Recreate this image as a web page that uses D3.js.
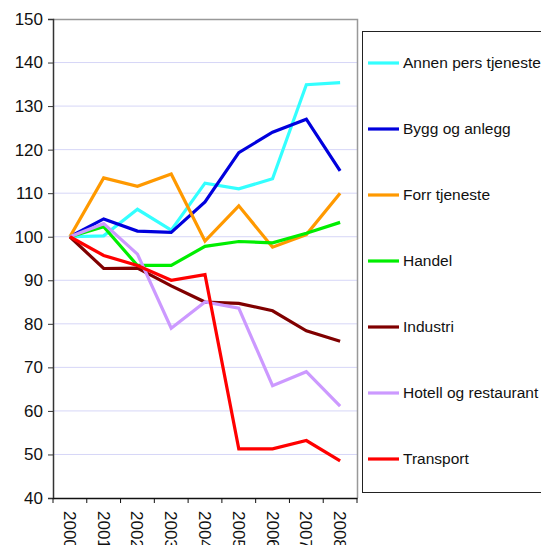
<!DOCTYPE html>
<html>
<head>
<meta charset="utf-8">
<script src="https://cdn.jsdelivr.net/npm/d3@7"></script>
<style>
  body { margin: 0; background: #fff; }
  svg { display: block; font-family: "Liberation Sans", Arial, sans-serif; }
</style>
</head>
<body>
<script>
const years = ["2000","2001","2002","2003","2004","2005","2006","2007","2008"];
const annen = [100, 100.2, 106.3, 101.5, 112.3, 111, 113.3, 134.9, 135.4];
const bygg = [100, 104.1, 101.3, 101, 108, 119.3, 124, 127, 115.1];
const forr = [100, 113.5, 111.6, 114.4, 99, 107.1, 97.6, 100.5, 110];
const handel = [100, 102.3, 93.4, 93.4, 97.8, 98.9, 98.6, 100.8, 103.3];
const industri = [100, 92.7, 92.8, 88.7, 85, 84.7, 83, 78.4, 76];
const hotell = [100, 103, 96, 79, 85, 83.6, 65.8, 69, 61.1];
const transport = [100, 95.7, 93.4, 90, 91.3, 51.3, 51.3, 53.2, 48.5];
const yTicks = [40, 50, 60, 70, 80, 90, 100, 110, 120, 130, 140, 150];

const series = [
  {name: "Annen pers tjeneste", values: annen, color: "#33ffff"},
  {name: "Bygg og anlegg", values: bygg, color: "#0000dd"},
  {name: "Forr tjeneste", values: forr, color: "#ff9900"},
  {name: "Handel", values: handel, color: "#00ee00"},
  {name: "Industri", values: industri, color: "#800000"},
  {name: "Hotell og restaurant", values: hotell, color: "#cc99ff"},
  {name: "Transport", values: transport, color: "#ff0000"}
];

const width = 541, height = 545;
const pLeft = 53, pRight = 357, pTop = 19, pBottom = 498;

const svg = d3.select("body").append("svg")
  .attr("width", width).attr("height", height);

const x = d3.scaleBand().domain(years).range([pLeft, pRight]);
const y = d3.scaleLinear().domain([40, 150]).range([pBottom, pTop]);

// grid
svg.append("g").selectAll("line")
  .data(yTicks.filter(d => d > 40 && d < 150))
  .enter().append("line")
  .attr("x1", pLeft).attr("x2", pRight)
  .attr("y1", d => y(d)).attr("y2", d => y(d))
  .style("stroke", "#d6d6f7").style("stroke-width", 1);

// plot border top/right
svg.append("path")
  .attr("d", `M${pLeft},${pTop + 0.5}H${pRight + 0.5}V${pBottom}`)
  .style("fill", "none").style("stroke", "#999").style("stroke-width", 1.5);

// y axis
const yAxis = svg.append("g")
  .attr("transform", `translate(${pLeft},0)`)
  .call(d3.axisLeft(y).tickValues(yTicks).tickSize(5).tickPadding(5));
yAxis.select(".domain").style("stroke", "#333").style("stroke-width", 1.5);
yAxis.selectAll(".tick line").style("stroke", "#333");
yAxis.selectAll("text").style("font-size", "17px").style("fill", "#111")
  .style("font-family", "Liberation Sans, Arial, sans-serif");

// x axis
const xAxis = svg.append("g")
  .attr("transform", `translate(0,${pBottom})`)
  .call(d3.axisBottom(x).tickSize(0).tickPadding(0));
xAxis.select(".domain").style("stroke", "#111").style("stroke-width", 1.5);
xAxis.selectAll("text")
  .style("font-size", "17px").style("fill", "#111")
  .style("font-family", "Liberation Sans, Arial, sans-serif")
  .attr("text-anchor", "start")
  .attr("dy", null)
  .attr("transform", "translate(-6,13) rotate(90)");
// category boundary ticks
svg.append("g").selectAll("line")
  .data(years.concat(["end"]))
  .enter().append("line")
  .attr("x1", (d, i) => pLeft + i * x.step())
  .attr("x2", (d, i) => pLeft + i * x.step())
  .attr("y1", pBottom).attr("y2", pBottom + 5)
  .style("stroke", "#111").style("stroke-width", 1);

// lines
const line = d3.line()
  .x((d, i) => x(years[i]) + x.bandwidth() / 2)
  .y(d => y(d));

svg.append("g").selectAll("path")
  .data(series)
  .enter().append("path")
  .attr("d", d => line(d.values))
  .style("fill", "none")
  .style("stroke", d => d.color)
  .style("stroke-width", 3.2)
  .style("stroke-linejoin", "miter");

// legend
const lg = svg.append("g");
lg.append("rect")
  .attr("x", 362.5).attr("y", 31.5)
  .attr("width", 200).attr("height", 461)
  .style("fill", "#fff").style("stroke", "#222").style("stroke-width", 1);

const item = lg.selectAll("g.item")
  .data(series)
  .enter().append("g")
  .attr("transform", (d, i) => `translate(0,${63 + i * 66})`);
item.append("line")
  .attr("x1", 368).attr("x2", 399)
  .style("stroke", d => d.color).style("stroke-width", 3.2);
item.append("text")
  .attr("x", 403).attr("dy", "0.35em")
  .style("font-size", "15.5px").style("fill", "#111")
  .text(d => d.name);
</script>
</body>
</html>
